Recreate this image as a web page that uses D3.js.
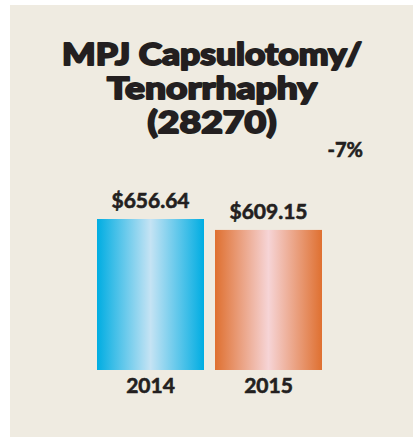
<!DOCTYPE html>
<html><head><meta charset="utf-8">
<script src="https://cdn.jsdelivr.net/npm/d3@7"></script>
<style>
html,body{margin:0;padding:0;background:#fff;}
svg{display:block;}
</style></head>
<body>
<svg id="chart" width="417" height="437"></svg>
<script>
const categories = ["2014", "2015"];
const values = [656.64, 609.15];
const valueLabels = ["$656.64", "$609.15"];
const titleLines = ["MPJ Capsulotomy/", "Tenorrhaphy", "(28270)"];
const changeLabel = "-7%";

const svg = d3.select("#chart");
const textColor = "#231f20";
const fontFam = "'Lato', 'DejaVu Sans', sans-serif";

svg.append("rect").attr("x", 10).attr("y", 5).attr("width", 403).attr("height", 432).attr("fill", "#efebe1");

const defs = svg.append("defs");
const grads = [
  {id: "g0", edge: "#00ade2", mid: "#c5e3f4"},
  {id: "g1", edge: "#df7030", mid: "#f6d4d6"}
];
grads.forEach(g => {
  const lg = defs.append("linearGradient").attr("id", g.id).attr("x1", "0").attr("x2", "1").attr("y1", "0").attr("y2", "0");
  lg.append("stop").attr("offset", "0").attr("stop-color", g.edge);
  lg.append("stop").attr("offset", "0.5").attr("stop-color", g.mid);
  lg.append("stop").attr("offset", "1").attr("stop-color", g.edge);
});

const x = d3.scaleBand().domain(categories).range([97, 322]).paddingInner(0.0932).paddingOuter(0);
const y = d3.scaleLinear().domain([0, 656.64]).range([370, 219]);

svg.selectAll("rect.bar").data(values).enter().append("rect")
  .attr("class", "bar")
  .attr("x", (d, i) => x(categories[i]))
  .attr("y", d => y(d))
  .attr("width", x.bandwidth())
  .attr("height", d => y(0) - y(d))
  .attr("fill", (d, i) => `url(#g${i})`);

svg.selectAll("text.val").data(values).enter().append("text")
  .attr("class", "val")
  .attr("x", (d, i) => x(categories[i]) + x.bandwidth() / 2)
  .attr("y", d => y(d) - 11)
  .attr("text-anchor", "middle")
  .attr("font-family", fontFam).attr("font-weight", 700).attr("font-size", 21)
  .attr("fill", textColor).attr("stroke", textColor).attr("stroke-width", 0.6)
  .text((d, i) => valueLabels[i]);

svg.selectAll("text.cat").data(categories).enter().append("text")
  .attr("class", "cat")
  .attr("x", d => x(d) + x.bandwidth() / 2)
  .attr("y", 393)
  .attr("text-anchor", "middle")
  .attr("font-family", fontFam).attr("font-weight", 700).attr("font-size", 21)
  .attr("fill", textColor).attr("stroke", textColor).attr("stroke-width", 0.6)
  .text(d => d);

const titleWidths = [300, 210, 129];
const title = svg.append("text")
  .attr("text-anchor", "middle")
  .attr("font-family", fontFam).attr("font-weight", 900).attr("font-size", 30)
  .attr("fill", textColor).attr("stroke", textColor).attr("stroke-width", 1.8)
  .attr("stroke-linejoin", "round");
titleLines.forEach((t, i) => {
  title.append("tspan").attr("x", 212).attr("y", 65 + i * 34)
    .attr("textLength", titleWidths[i]).attr("lengthAdjust", "spacingAndGlyphs").text(t);
});

svg.append("text")
  .attr("x", 363).attr("y", 157)
  .attr("text-anchor", "end")
  .attr("font-family", fontFam).attr("font-weight", 700).attr("font-size", 20)
  .attr("fill", textColor).attr("stroke", textColor).attr("stroke-width", 0.6)
  .text(changeLabel);
</script>
</body></html>
